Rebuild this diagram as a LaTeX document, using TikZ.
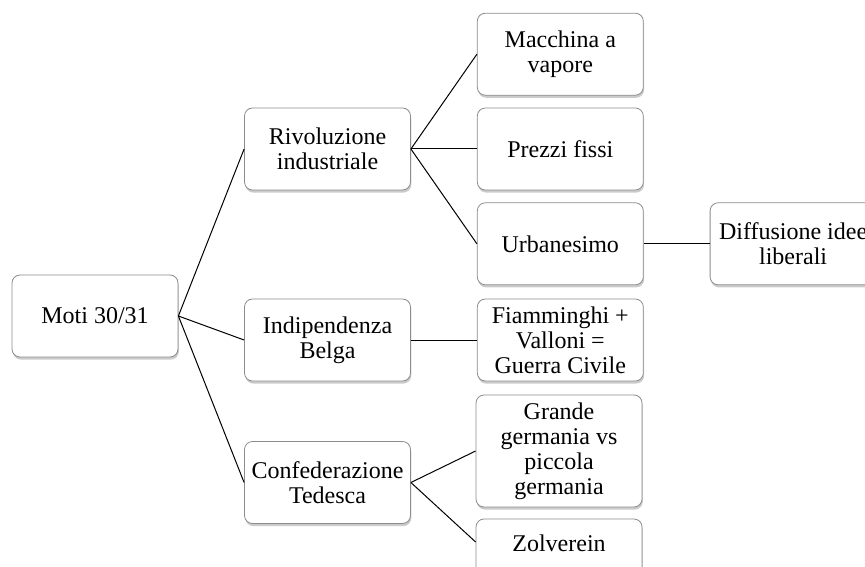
\documentclass[tikz,border=0pt]{standalone}
\usepackage{fontspec}
\setmainfont{Liberation Serif}
\usepackage{tikz}
\usetikzlibrary{positioning,shadows}
\definecolor{boxline}{HTML}{8C8C8C}

\begin{document}
\begin{tikzpicture}[
  x=1pt, y=1pt,
  node distance=6pt and 33pt,
  box/.style={draw=boxline, fill=white, rounded corners=4pt, minimum width=83pt, minimum height=41pt,
    align=center, inner sep=2pt, font=\fontsize{12}{12.5}\selectfont,
    drop shadow={shadow xshift=0.4pt, shadow yshift=-1.3pt, fill=black!45, opacity=0.45}},
  conn/.style={black, line width=0.5pt},
]
  \useasboundingbox (0,0) rectangle (432.5,-283);

  % Root
  \node[box] (moti) at (47.5,-158) {Moti 30/31};

  % Second level
  \node[box] (riv) at (163.75,-74.5) {Rivoluzione\\industriale};
  \node[box] (ind) at (163.75,-170) {Indipendenza\\Belga};
  \node[box] (conf) at (163.75,-241.25) {Confederazione\\Tedesca};

  % Third level
  \node[box, right=33pt of riv] (prez) {Prezzi fissi};
  \node[box, above=6pt of prez] (mac) {Macchina a\\vapore};
  \node[box, below=6pt of prez] (urb) {Urbanesimo};
  \node[box, right=33pt of ind] (fiam) {Fiamminghi +\\Valloni =\\Guerra Civile};
  \node[box, minimum height=56pt] (gran) at (279.5,-225.5) {Grande\\germania vs\\piccola\\germania};
  \node[box, minimum height=32pt, text height=8pt, text depth=8pt] (zol) at (279.5,-275.5) {Zolverein};

  % Fourth level
  \node[box, right=33pt of urb] (diff) {Diffusione idee\\liberali};

  % Edges
  \draw[conn] (moti.east) -- (riv.west);
  \draw[conn] (moti.east) -- (ind.west);
  \draw[conn] (moti.east) -- (conf.west);
  \draw[conn] (riv.east) -- (mac.west);
  \draw[conn] (riv.east) -- (prez.west);
  \draw[conn] (riv.east) -- (urb.west);
  \draw[conn] (ind.east) -- (fiam.west);
  \draw[conn] (conf.east) -- (gran.west);
  \draw[conn] (conf.east) -- ([yshift=4.5pt]zol.west);
  \draw[conn] (urb.east) -- (diff.west);
\end{tikzpicture}
\end{document}
